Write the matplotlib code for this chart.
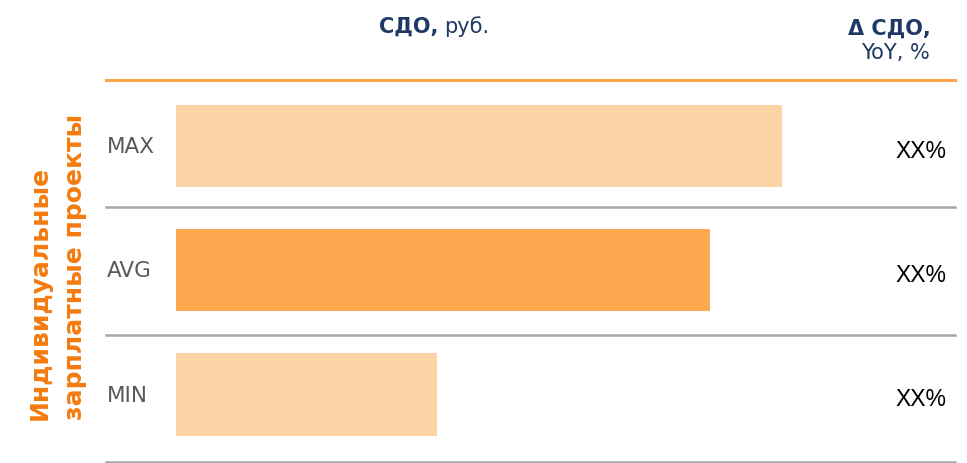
import matplotlib.pyplot as plt

# Данные
categories = ["MAX", "AVG", "MIN"]
values = [100, 88, 43]          # СДО, отн. ед.
yoy_labels = ["XX%", "XX%", "XX%"]
side_title = "Индивидуальные\nзарплатные проекты"

navy = "#1F3864"
orange_text = "#F47B0E"
bar_light = "#FDD4A6"
bar_main = "#FFA84F"
line_orange = "#FFA54F"
line_gray = "#A6A6A6"

fig = plt.figure(figsize=(9.67, 4.64), dpi=100)
W, H = 967, 464
ax = fig.add_axes([106 / W, 1 / H, (955 - 106) / W, (463 - 81) / H])

centers = [0.515, 1.495, 2.47]
colors = [bar_light, bar_main, bar_light]
ax.barh(centers, values, height=0.645, color=colors, left=0)

ax.set_xlim(-11.6, 128.5)
ax.set_ylim(3, 0)
ax.axis("off")

# Разделители строк
ax.axhline(0, color=line_orange, lw=2.2, clip_on=False)
for y in [1, 2, 3]:
    ax.axhline(y, color=line_gray, lw=1.8, clip_on=False)

for c, cat, lab in zip(centers, categories, yoy_labels):
    ax.text(-11.4, c, cat, ha="left", va="center", fontsize=15.5,
            color="#595959", family="DejaVu Sans")
    ax.text(127.1, c + 0.035, lab, ha="right", va="center", fontsize=16.5,
            color="black", family="Liberation Sans")

# Заголовки колонок
t1 = fig.text(379 / W, 1 - 33 / H, "СДО,", fontsize=15, fontweight="bold",
              color=navy, va="baseline")
ax.annotate("руб.", xy=(1, 0), xycoords=t1, xytext=(4, 0),
            textcoords="offset points", fontsize=15, color=navy,
            va="bottom", annotation_clip=False)
fig.text(931 / W, 1 - 35 / H, "Δ СДО,", fontsize=15, fontweight="bold",
         color=navy, ha="right", va="baseline")
fig.text(930 / W, 1 - 59 / H, "YoY, %", fontsize=15, color=navy,
         ha="right", va="baseline")

# Боковая подпись
fig.text(57 / W, 1 - 420 / H, side_title, rotation=90, ha="center",
         va="bottom", multialignment="left", fontsize=18,
         fontweight="bold", color=orange_text, linespacing=1.6)

fig.savefig("out.png", dpi=100)
